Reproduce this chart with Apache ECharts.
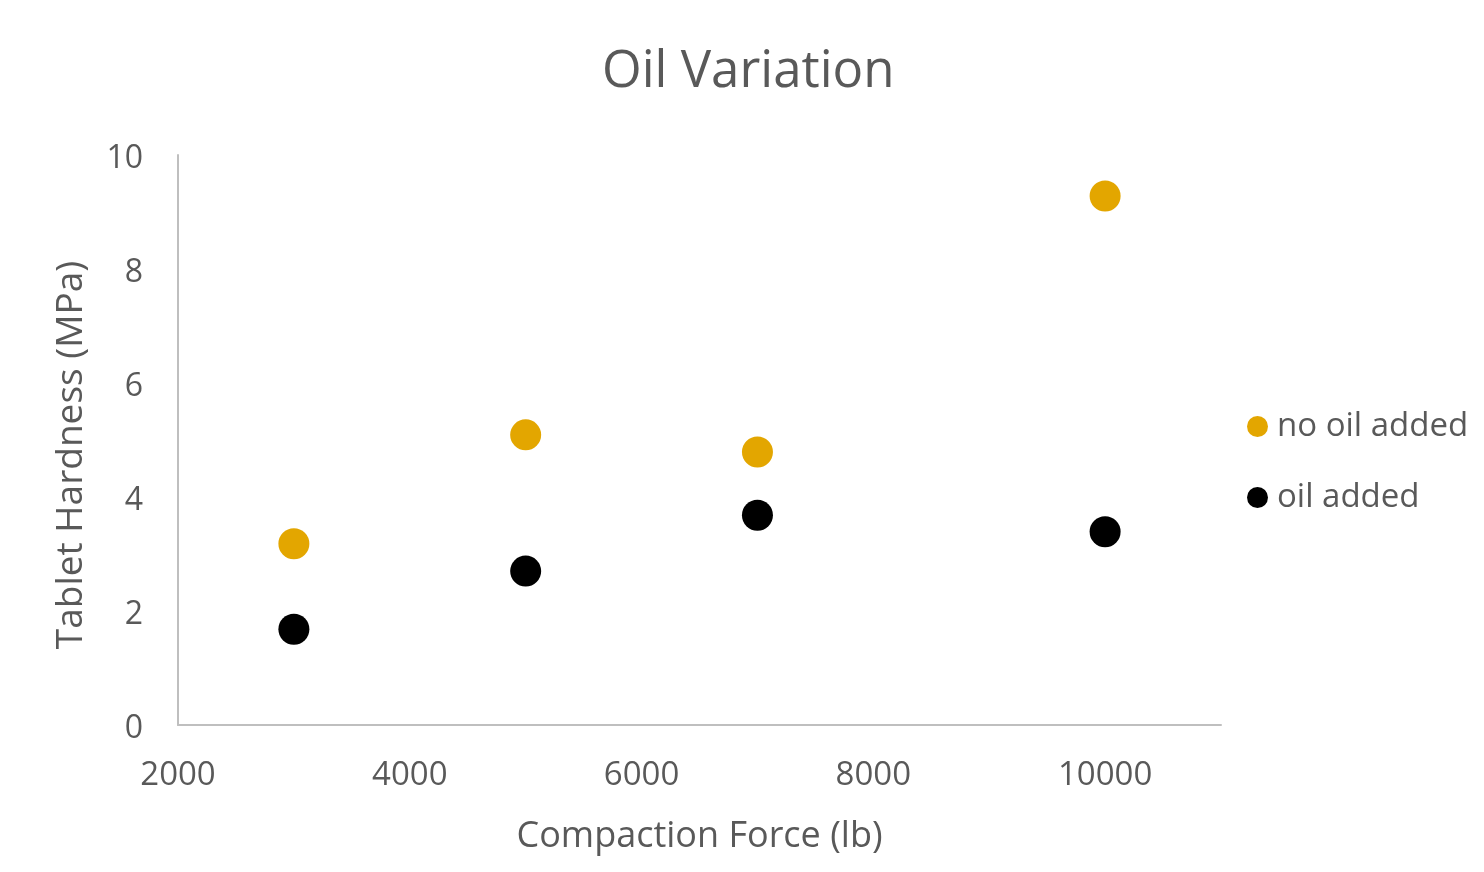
<!DOCTYPE html>
<html>
<head>
<meta charset="utf-8">
<script src="https://cdn.jsdelivr.net/npm/echarts@6/dist/echarts.min.js"></script>
<style>html,body{margin:0;padding:0;background:#fff;}#c{width:1484px;height:872px;}</style>
</head>
<body>
<div id="c"></div>
<script>
const seriesNames = ['no oil added', 'oil added'];
const forces = [3000, 5000, 7000, 10000];
const noOilHardness = [3.18, 5.09, 4.79, 9.28];
const oilHardness = [1.68, 2.70, 3.68, 3.39];
const xTickLabels = ['2000', '4000', '6000', '8000', '10000'];
const yTickLabels = ['0', '2', '4', '6', '8', '10'];

const FONT = '"Open Sans", sans-serif';
const TXT = '#595959';
const chart = echarts.init(document.getElementById('c'));
chart.setOption({
  animation: false,
  backgroundColor: '#fff',
  title: {
    text: 'Oil Variation',
    left: 597,
    top: 42,
    textStyle: { fontFamily: FONT, fontSize: 51, fontWeight: 'normal', color: TXT }
  },
  legend: {
    orient: 'vertical',
    left: 1242,
    top: 405,
    icon: 'circle',
    itemWidth: 21,
    itemHeight: 21,
    itemGap: 38,
    textStyle: { fontFamily: FONT, fontSize: 33, color: TXT, padding: [0, 0, 0, 4] },
    data: seriesNames
  },
  grid: { left: 178, top: 155, right: 263, bottom: 147, containLabel: false },
  xAxis: {
    type: 'value',
    min: 2000,
    max: 11000,
    interval: 2000,
    name: 'Compaction Force (lb)',
    nameLocation: 'middle',
    nameGap: 94,
    nameTextStyle: { fontFamily: FONT, fontSize: 36, color: TXT },
    axisLine: { lineStyle: { color: '#BFBFBF', width: 2 } },
    axisTick: { show: false },
    splitLine: { show: false },
    axisLabel: {
      fontFamily: FONT, fontSize: 33, color: TXT, margin: 34,
      formatter: function (v) { const s = String(v); return xTickLabels.indexOf(s) >= 0 ? s : ''; }
    }
  },
  yAxis: {
    type: 'value',
    min: 0,
    max: 10,
    interval: 2,
    name: 'Tablet Hardness (MPa)',
    nameLocation: 'middle',
    nameGap: 88,
    nameTextStyle: { fontFamily: FONT, fontSize: 37, color: TXT, padding: [0, 30, 0, 0] },
    axisLine: { show: true, lineStyle: { color: '#BFBFBF', width: 2 } },
    axisTick: { show: false },
    splitLine: { show: false },
    axisLabel: {
      fontFamily: FONT, fontSize: 32, color: TXT, margin: 35,
      rich: { t: { fontFamily: FONT, fontSize: 32, color: TXT, padding: [8, 0, 0, 0] } },
      formatter: function (v) { const s = String(v); return yTickLabels.indexOf(s) >= 0 ? '{t|' + s + '}' : ''; }
    }
  },
  series: [
    {
      name: seriesNames[0],
      type: 'scatter',
      symbol: 'circle',
      symbolSize: 31,
      itemStyle: { color: '#E3A600', opacity: 1 },
      data: forces.map((f, i) => [f, noOilHardness[i]])
    },
    {
      name: seriesNames[1],
      type: 'scatter',
      symbol: 'circle',
      symbolSize: 31,
      itemStyle: { color: '#000000', opacity: 1 },
      data: forces.map((f, i) => [f, oilHardness[i]])
    }
  ]
});
</script>
</body>
</html>
